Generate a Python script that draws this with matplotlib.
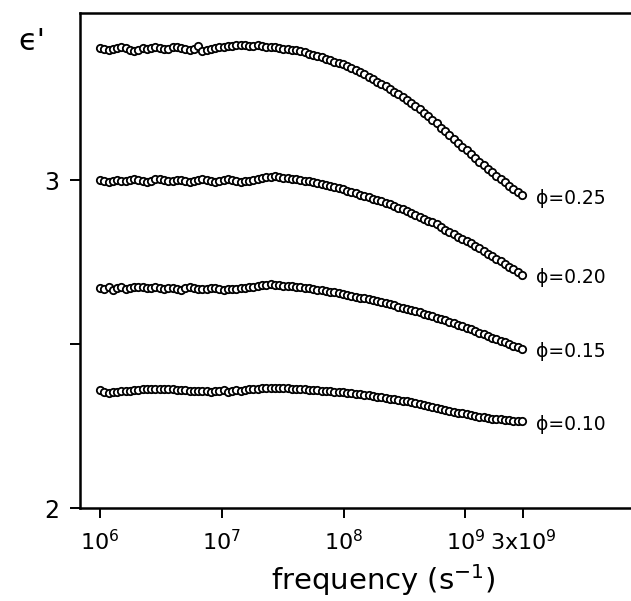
import matplotlib
matplotlib.use("Agg")
import matplotlib.pyplot as plt
import numpy as np

plt.rcParams['font.family'] = ['DejaVu Sans']
plt.rcParams['mathtext.fontset'] = 'dejavusans'

# log10 of measurement frequency (s^-1)
log_freq = [
    6.000, 6.035, 6.070, 6.105, 6.140, 6.175, 6.210, 6.245, 6.280, 6.315,
    6.350, 6.385, 6.420, 6.455, 6.490, 6.525, 6.560, 6.595, 6.630, 6.665,
    6.700, 6.735, 6.770, 6.805, 6.840, 6.875, 6.910, 6.945, 6.980, 7.015,
    7.050, 7.085, 7.120, 7.155, 7.190, 7.225, 7.260, 7.295, 7.330, 7.365,
    7.400, 7.435, 7.470, 7.505, 7.540, 7.575, 7.610, 7.645, 7.680, 7.715,
    7.750, 7.785, 7.820, 7.855, 7.890, 7.925, 7.960, 7.995, 8.030, 8.065,
    8.100, 8.135, 8.170, 8.205, 8.240, 8.275, 8.310, 8.345, 8.380, 8.415,
    8.450, 8.485, 8.520, 8.555, 8.590, 8.625, 8.660, 8.695, 8.730, 8.765,
    8.800, 8.835, 8.870, 8.905, 8.940, 8.975, 9.010, 9.045, 9.080, 9.115,
    9.150, 9.185, 9.220, 9.255, 9.290, 9.325, 9.360, 9.395, 9.430, 9.465,
]

eps_025 = [
    3.403, 3.400, 3.397, 3.399, 3.404, 3.406, 3.403, 3.398, 3.395, 3.398,
    3.402, 3.401, 3.404, 3.405, 3.402, 3.400, 3.401, 3.405, 3.407, 3.403,
    3.399, 3.396, 3.400, 3.409, 3.394, 3.398, 3.401, 3.403, 3.405, 3.406,
    3.408, 3.410, 3.411, 3.412, 3.411, 3.409, 3.410, 3.411, 3.409, 3.406,
    3.405, 3.406, 3.404, 3.401, 3.399, 3.398, 3.396, 3.393, 3.390, 3.386,
    3.382, 3.379, 3.375, 3.371, 3.366, 3.362, 3.358, 3.354, 3.348, 3.342,
    3.336, 3.330, 3.323, 3.316, 3.309, 3.301, 3.294, 3.286, 3.278, 3.270,
    3.262, 3.253, 3.244, 3.235, 3.226, 3.216, 3.206, 3.196, 3.185, 3.174,
    3.160, 3.149, 3.137, 3.126, 3.114, 3.102, 3.091, 3.079, 3.068, 3.056,
    3.045, 3.035, 3.024, 3.013, 3.003, 2.993, 2.983, 2.973, 2.963, 2.954,
]

eps_020 = [
    3.002, 2.998, 2.994, 2.997, 3.001, 2.999, 2.996, 3.000, 3.004, 3.002,
    2.998, 2.995, 2.999, 3.003, 3.005, 3.002, 2.999, 2.997, 3.000, 3.002,
    2.999, 2.994, 2.997, 3.001, 3.003, 3.001, 2.998, 2.995, 2.998, 3.002,
    3.004, 3.001, 2.997, 2.994, 2.996, 2.999, 3.001, 3.003, 3.006, 3.009,
    3.011, 3.012, 3.010, 3.008, 3.007, 3.005, 3.004, 3.002, 2.999, 2.996,
    2.993, 2.990, 2.987, 2.984, 2.981, 2.978, 2.975, 2.972, 2.968, 2.964,
    2.960, 2.956, 2.952, 2.948, 2.944, 2.940, 2.935, 2.931, 2.926, 2.921,
    2.916, 2.911, 2.905, 2.900, 2.894, 2.889, 2.883, 2.877, 2.871, 2.865,
    2.856, 2.849, 2.842, 2.835, 2.828, 2.821, 2.814, 2.807, 2.800, 2.793,
    2.784, 2.776, 2.768, 2.760, 2.752, 2.744, 2.736, 2.728, 2.720, 2.712,
]

eps_015 = [
    2.672, 2.668, 2.675, 2.666, 2.670, 2.673, 2.669, 2.671, 2.674, 2.675,
    2.673, 2.670, 2.671, 2.674, 2.672, 2.669, 2.670, 2.672, 2.668, 2.666,
    2.670, 2.673, 2.671, 2.668, 2.667, 2.669, 2.672, 2.670, 2.667, 2.666,
    2.668, 2.667, 2.669, 2.671, 2.672, 2.673, 2.675, 2.677, 2.679, 2.681,
    2.682, 2.681, 2.679, 2.678, 2.677, 2.676, 2.675, 2.674, 2.672, 2.670,
    2.668, 2.666, 2.664, 2.662, 2.660, 2.658, 2.655, 2.653, 2.650, 2.648,
    2.645, 2.642, 2.640, 2.637, 2.634, 2.631, 2.628, 2.625, 2.621, 2.618,
    2.614, 2.611, 2.607, 2.604, 2.600, 2.597, 2.593, 2.589, 2.585, 2.580,
    2.576, 2.572, 2.567, 2.563, 2.558, 2.554, 2.549, 2.545, 2.540, 2.535,
    2.530, 2.525, 2.520, 2.515, 2.510, 2.505, 2.500, 2.495, 2.490, 2.485,
]

eps_010 = [
    2.360, 2.354, 2.351, 2.353, 2.355, 2.356, 2.357, 2.358, 2.359, 2.361,
    2.362, 2.363, 2.364, 2.364, 2.363, 2.363, 2.362, 2.362, 2.361, 2.360,
    2.359, 2.358, 2.358, 2.357, 2.356, 2.357, 2.355, 2.358, 2.356, 2.359,
    2.355, 2.357, 2.360, 2.358, 2.361, 2.362, 2.363, 2.364, 2.366, 2.367,
    2.367, 2.366, 2.366, 2.365, 2.365, 2.364, 2.364, 2.363, 2.362, 2.361,
    2.360, 2.359, 2.358, 2.357, 2.356, 2.355, 2.354, 2.353, 2.352, 2.350,
    2.349, 2.347, 2.346, 2.344, 2.342, 2.340, 2.338, 2.336, 2.334, 2.332,
    2.330, 2.327, 2.325, 2.322, 2.319, 2.317, 2.314, 2.311, 2.308, 2.305,
    2.302, 2.300, 2.297, 2.294, 2.291, 2.289, 2.286, 2.284, 2.281, 2.279,
    2.277, 2.275, 2.273, 2.271, 2.270, 2.268, 2.267, 2.266, 2.265, 2.264,
]

series = [eps_025, eps_020, eps_015, eps_010]
label_names = ['ϕ=0.25', 'ϕ=0.20', 'ϕ=0.15', 'ϕ=0.10']

xtick_vals = [1e6, 1e7, 1e8, 1e9, 3e9]
xtick_labels = [r'$10^6$', r'$10^7$', r'$10^8$', r'$10^9$', r'$3\mathregular{x}10^9$']
ytick_vals = [2, 2.5, 3]
ytick_labels = ['2', '', '3']

freq = 10 ** np.array(log_freq)

fig = plt.figure(figsize=(6.31, 6.01), dpi=100)
ax = fig.add_axes([80 / 631, 93 / 601, 0.90, 495 / 601])

for ys, name in zip(series, label_names):
    ax.plot(freq, ys, linestyle='none', marker='o', markersize=5.3,
            markerfacecolor='white', markeredgecolor='black',
            markeredgewidth=1.3)
    ax.annotate(name, xy=(freq[-1], ys[-1]), xytext=(10, -2),
                textcoords='offset points', ha='left', va='center',
                fontsize=13.5)

ax.set_xscale('log')
ax.set_xlim(10 ** 5.835, 10 ** 10.5)
ax.set_ylim(2, 3.51)

ax.set_xticks(xtick_vals)
ax.set_xticklabels(xtick_labels)
ax.xaxis.set_minor_locator(matplotlib.ticker.NullLocator())
ax.set_yticks(ytick_vals)
ax.set_yticklabels(ytick_labels)

for s in ['left', 'top', 'bottom']:
    ax.spines[s].set_linewidth(1.8)
ax.spines['right'].set_visible(False)

ax.tick_params(axis='both', direction='out', length=7, width=1.4, pad=8)
ax.tick_params(axis='x', labelsize=16)
ax.tick_params(axis='y', labelsize=17)

fig.text(383 / 631, 1 - 580 / 601, r'frequency (s$^{-1}$)', ha='center',
         va='center', fontsize=21)
fig.text(32 / 631, 1 - 42 / 601, "ϵ'", ha='center', va='center', fontsize=22)

fig.savefig('out.png', dpi=100)
